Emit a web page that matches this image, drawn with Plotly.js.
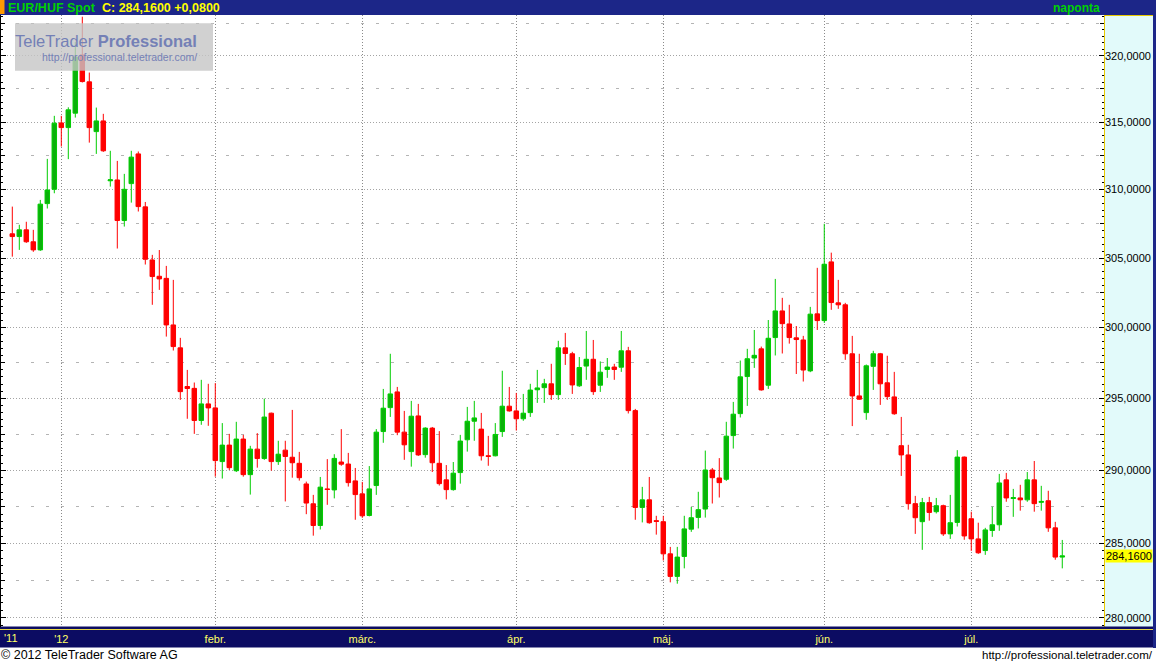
<!DOCTYPE html>
<html><head><meta charset="utf-8">
<script src="https://cdn.plot.ly/plotly-3.0.1.min.js"></script>
<style>html,body{margin:0;padding:0;background:#fff;overflow:hidden}#chart{width:1156px;height:664px}</style>
</head><body><div id="chart"></div>
<script>
// EUR/HUF daily candles, 22 Dec 2011 .. 19 Jul 2012 (one per weekday)
const openP = [306.76,306.56,307.05,306.18,305.59,308.97,310.02,314.95,314.60,315.68,
320.08,318.04,314.30,315.10,310.65,310.71,307.73,310.44,312.64,308.73,
304.86,303.68,303.53,300.19,298.56,295.83,295.70,293.45,294.61,294.33,
290.60,291.74,289.97,292.16,289.70,291.46,290.81,293.96,290.60,291.39,
290.90,290.48,289.06,287.70,286.22,288.72,288.65,290.57,290.43,289.27,
288.38,286.90,288.95,292.68,294.35,295.45,292.64,291.29,293.77,291.08,
292.92,290.48,289.34,288.67,289.84,292.11,293.40,292.85,291.00,291.00,
292.68,294.45,294.12,293.57,294.00,295.60,295.75,296.02,295.26,298.56,
298.14,295.88,297.27,297.75,295.92,297.03,297.20,297.19,298.35,294.14,
287.45,287.97,286.55,286.48,284.30,282.78,284.12,285.97,286.77,287.34,
290.02,289.47,289.38,292.40,293.93,296.53,297.84,298.49,295.92,299.29,
301.19,300.26,299.27,299.12,296.93,300.98,300.50,304.72,301.77,301.63,
298.14,295.17,294.00,297.25,298.14,296.09,295.10,291.70,291.06,287.71,
286.48,287.78,287.16,287.57,285.65,286.43,290.91,286.68,285.31,284.52,
285.88,286.27,289.34,288.06,288.10,287.97,289.34,287.80,287.91,286.06,
284.08];
const highP = [308.75,307.42,307.64,307.05,309.24,312.27,315.48,315.48,316.12,321.08,
323.00,318.74,316.10,315.63,312.87,312.12,311.16,312.87,312.82,309.09,
305.23,305.58,304.43,303.42,299.27,297.00,296.11,296.30,296.02,296.07,
293.27,292.52,293.36,292.45,291.69,292.57,294.98,294.00,292.04,292.04,
294.19,291.27,289.22,288.31,289.54,290.77,291.11,292.85,291.20,290.16,
289.20,290.29,292.85,295.66,298.14,295.80,294.12,294.82,294.61,292.98,
293.00,292.71,290.36,290.57,292.45,294.40,294.82,293.98,292.38,293.27,
296.94,295.80,295.38,295.31,296.02,297.00,296.37,297.43,299.06,299.62,
298.28,297.91,299.76,299.12,297.60,297.84,297.43,299.76,298.63,294.26,
288.86,289.54,286.88,286.88,284.77,284.77,286.88,287.48,288.52,291.36,
290.16,290.84,293.36,294.75,297.66,298.49,299.83,298.65,300.54,303.49,
302.13,301.63,300.11,299.41,301.48,304.29,307.49,305.39,303.42,301.77,
299.41,298.14,297.38,298.35,298.20,298.00,296.86,293.70,291.76,288.24,
288.10,288.17,288.10,287.64,288.31,291.39,290.95,287.16,286.41,286.06,
287.50,289.75,289.82,288.72,289.00,289.88,290.64,288.93,288.59,286.47,
285.24];
const lowP = [305.10,305.59,306.10,305.45,305.52,308.61,309.73,313.19,312.25,315.35,
317.99,313.48,312.64,312.79,310.22,305.69,307.29,309.04,308.39,304.53,
301.63,302.70,299.36,298.37,294.89,293.57,292.52,293.15,293.08,289.56,
289.43,290.02,289.88,289.56,288.33,290.18,290.72,289.97,290.37,287.86,
289.49,289.29,286.99,285.53,285.95,287.63,288.07,290.31,288.88,286.61,
286.74,286.84,288.31,291.90,293.70,292.43,290.72,290.25,290.99,290.87,
289.88,288.95,288.00,288.60,289.08,291.29,292.04,290.67,290.31,290.96,
292.31,294.07,292.75,293.43,293.70,294.68,294.68,294.89,294.89,297.35,
295.31,295.80,296.30,295.24,295.45,296.44,296.30,296.86,293.94,286.61,
286.43,286.34,285.60,283.85,282.38,282.29,283.32,285.79,286.02,286.76,
287.72,288.13,289.27,291.50,293.66,294.47,297.14,295.54,295.66,298.02,
298.16,298.86,296.71,296.18,296.84,299.83,300.33,301.27,301.34,297.71,
293.06,294.89,293.50,295.59,294.54,294.89,293.85,289.61,287.30,285.65,
284.57,286.55,287.04,285.51,285.31,286.15,285.25,284.50,284.30,284.23,
285.45,285.86,287.84,286.81,287.23,287.84,287.16,287.23,285.79,283.90,
283.32];
const closeP = [306.56,307.05,306.18,305.59,308.93,309.97,314.93,314.60,315.93,319.92,
318.06,314.60,315.10,312.87,310.72,307.73,310.02,312.40,308.75,304.91,
303.66,303.49,300.19,298.65,295.47,295.69,293.45,294.61,294.33,290.67,
291.74,290.18,292.16,289.70,291.46,290.81,293.69,290.60,291.11,290.95,
290.52,289.49,287.75,286.22,288.84,288.68,290.82,290.42,289.15,288.33,
286.88,288.72,292.64,294.31,295.31,292.64,291.76,293.75,291.06,292.92,
290.52,289.08,288.67,289.80,292.02,293.40,293.63,291.00,290.96,292.48,
294.45,294.12,293.57,293.96,295.58,295.73,296.02,295.26,298.56,298.16,
295.94,297.17,297.75,295.47,296.84,297.20,297.03,298.35,294.14,287.45,
287.97,286.41,286.50,284.30,282.78,284.08,285.99,286.75,287.30,290.02,
289.49,289.15,292.36,293.89,296.51,297.79,298.03,295.59,299.24,301.19,
300.28,299.29,299.15,296.99,300.96,300.50,304.55,301.79,301.63,298.14,
295.17,294.94,297.29,298.14,296.02,295.12,293.92,291.06,287.71,286.75,
287.78,287.11,287.57,285.65,286.41,290.91,285.51,285.31,284.37,285.92,
286.27,289.13,288.10,288.12,287.97,289.34,287.71,287.86,286.06,284.08,
284.16];

// month starts (trading-day index) and their labels
const monthStartIdx = [7, 29, 50, 72, 93, 116, 137];
const monthLabels = ["'12", "febr.", "márc.", "ápr.", "máj.", "jún.", "júl."];
const startYearLabel = "'11";
const priceTicks = [280, 285, 290, 295, 300, 305, 310, 315, 320];
const instrument = "EUR/HUF Spot";
const periodLabel = "naponta";

// ---------- drawing ----------
const idx = closeP.map((_, i) => i);
const fmt = v => v.toFixed(4).replace('.', ',');
const W = 1156, H = 664, L = 1, R = 1104, T = 15, B = 627;
const px = x => (x - L) / (R - L);
const py = y => (B - y) / (B - T);
const yRange = [Math.log10(279.40), Math.log10(323.13)];

const midTicks = priceTicks.slice(0, -1).map(v => v + 2.5).concat([322.5]);
const smallTicks = [];
for (let v = 279.5; v <= 323; v += 0.5) smallTicks.push(v);

const last = closeP[closeP.length - 1];
const chg = last - closeP[closeP.length - 2];

const traces = [{
  type: 'candlestick', x: idx, open: openP, high: highP, low: lowP, close: closeP,
  increasing: {line: {color: '#00cc00', width: 1}, fillcolor: '#0bb00b'},
  decreasing: {line: {color: '#ff0000', width: 1}, fillcolor: '#ff0000'},
  whiskerwidth: 0, hoverinfo: 'x+y', showlegend: false
}, {
  type: 'scatter', x: [], y: [], yaxis: 'y2', hoverinfo: 'skip', showlegend: false
}];

const navy = '#1c2688';
const band = '#0c0c62';
const shapes = [
  // header
  {type:'rect', xref:'paper', yref:'paper', x0:px(-2), x1:px(1158), y0:py(15), y1:py(-2), fillcolor:navy, line:{width:0}, layer:'below'},
  {type:'rect', xref:'paper', yref:'paper', x0:px(-1), x1:px(4.5), y0:py(14), y1:py(-1), fillcolor:'#ff9900', line:{width:0}, layer:'below'},
  // right price panel
  {type:'rect', xref:'paper', yref:'paper', x0:px(1104), x1:px(1156), y0:py(627), y1:py(15), fillcolor:'#e2fafa', line:{width:0}, layer:'below'},
  {type:'line', xref:'paper', yref:'paper', x0:px(1104.5), x1:px(1104.5), y0:py(627), y1:py(15), line:{color:'#e8c800', width:1}, layer:'below'},
  {type:'line', xref:'paper', yref:'paper', x0:px(1104), x1:px(1153), y0:py(15.5), y1:py(15.5), line:{color:'#e8c800', width:1}, layer:'below'},
  {type:'rect', xref:'paper', yref:'paper', x0:px(1153), x1:px(1158), y0:py(648), y1:py(14), fillcolor:navy, line:{width:0}, layer:'below'},
  // bottom date band
  {type:'rect', xref:'paper', yref:'paper', x0:px(-2), x1:px(1153), y0:py(647.5), y1:py(626.5), fillcolor:band, line:{width:0}, layer:'below'},
  {type:'line', xref:'paper', yref:'paper', x0:px(-2), x1:px(1153), y0:py(629.5), y1:py(629.5), line:{color:'#e8d84a', width:1}, layer:'below'},
  // left edge line
  {type:'line', xref:'paper', yref:'paper', x0:px(0.5), x1:px(0.5), y0:py(627), y1:py(15), line:{color:'#000', width:1}, layer:'above'},
  // watermark box
  {type:'rect', xref:'paper', yref:'paper', x0:px(15), x1:px(213), y0:py(70.7), y1:py(23.3), fillcolor:'rgba(198,198,198,0.8)', line:{width:0}, layer:'above'}
];

const annotations = [
  {xref:'paper', yref:'paper', x:px(6), y:py(7.5), xanchor:'left', yanchor:'middle', showarrow:false,
   text:'<b>' + instrument + '</b>', font:{family:'Liberation Sans, Arial', size:12.5, color:'#00d200'}},
  {xref:'paper', yref:'paper', x:px(100), y:py(7.5), xanchor:'left', yanchor:'middle', showarrow:false,
   text:'<b>C: ' + fmt(last) + ' ' + (chg >= 0 ? '+' : '') + fmt(chg) + '</b>', font:{family:'Liberation Sans, Arial', size:12.5, color:'#ffff00'}},
  {xref:'paper', yref:'paper', x:px(1102), y:py(7.5), xanchor:'right', yanchor:'middle', showarrow:false,
   text:'<b>' + periodLabel + '</b>', font:{family:'Liberation Sans, Arial', size:12, color:'#00d200'}},
  {xref:'paper', yref:'paper', x:px(199), y:py(41), xanchor:'right', yanchor:'middle', showarrow:false,
   text:'TeleTrader <b>Professional</b>', font:{family:'Liberation Sans, Arial', size:16.5, color:'#7480b6'}},
  {xref:'paper', yref:'paper', x:px(199), y:py(57), xanchor:'right', yanchor:'middle', showarrow:false,
   text:'http://professional.teletrader.com/', font:{family:'Liberation Sans, Arial', size:10.5, color:'#7480b6'}},
  {xref:'paper', yref:'paper', x:px(2), y:py(638), xanchor:'left', yanchor:'middle', showarrow:false,
   text:startYearLabel, font:{family:'Liberation Sans, Arial', size:11, color:'#ffff66'}},
  {xref:'paper', yref:'paper', x:px(-1), y:py(655), xanchor:'left', yanchor:'middle', showarrow:false,
   text:'© 2012 TeleTrader Software AG', font:{family:'Liberation Sans, Arial', size:12.5, color:'#000'}},
  {xref:'paper', yref:'paper', x:px(1155), y:py(655), xanchor:'right', yanchor:'middle', showarrow:false,
   text:'http://professional.teletrader.com/', font:{family:'Liberation Sans, Arial', size:11.5, color:'#000'}},
  {xref:'paper', yref:'y', x:1, y:Math.log10(last), xanchor:'left', yanchor:'middle', xshift:1, showarrow:false,
   text:fmt(last), bgcolor:'#ffff00', borderpad:0, font:{family:'Liberation Sans, Arial', size:11, color:'#000'}}
];

const layout = {
  width: W, height: H,
  margin: {l: L, r: W - R, t: T, b: H - B, pad: 0},
  paper_bgcolor: '#ffffff', plot_bgcolor: '#ffffff',
  showlegend: false, hovermode: 'closest', dragmode: false,
  boxgap: 0.36, boxgroupgap: 0,
  xaxis: {
    range: [-1.614, 155.96], tickmode: 'array', tickvals: monthStartIdx, ticktext: monthLabels,
    showgrid: true, gridcolor: '#8a8a8a', griddash: '1px,2px', gridwidth: 1,
    zeroline: false, showline: false, ticks: '', fixedrange: true, ticklabelstandoff: 4,
    tickfont: {family: 'Liberation Sans, Arial', size: 11, color: '#ffff66'},
    rangeslider: {visible: false}
  },
  yaxis: {
    type: 'log', side: 'right', range: yRange, fixedrange: true,
    tickmode: 'array', tickvals: priceTicks, ticktext: priceTicks.map(fmt),
    showgrid: true, gridcolor: '#a4a4a4', griddash: '1px,2px', gridwidth: 1,
    ticks: 'inside', ticklen: 5, tickcolor: '#000', tickwidth: 1, mirror: 'ticks',
    zeroline: false, showline: false,
    tickfont: {family: 'Liberation Sans, Arial', size: 11, color: '#000'},
    minor: {tickmode: 'array', tickvals: midTicks, showgrid: true, gridcolor: '#b4b4b4',
            griddash: '3px,12px', gridwidth: 1, ticks: 'inside', ticklen: 4, tickcolor: '#000'}
  },
  yaxis2: {
    type: 'log', overlaying: 'y', side: 'right', range: yRange, fixedrange: true,
    tickmode: 'array', tickvals: smallTicks, showticklabels: false,
    ticks: 'inside', ticklen: 2, tickcolor: '#000', mirror: 'ticks',
    showgrid: false, zeroline: false, showline: false
  },
  shapes: shapes,
  annotations: annotations
};

Plotly.newPlot('chart', traces, layout, {displayModeBar: false, staticPlot: true});
</script></body></html>
